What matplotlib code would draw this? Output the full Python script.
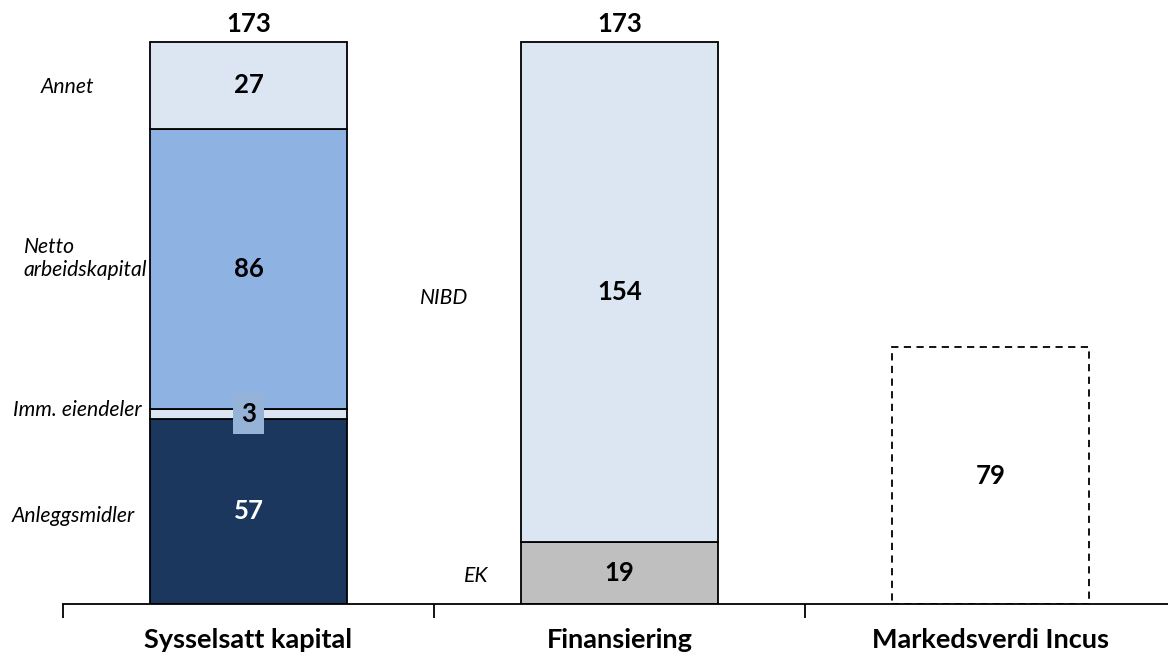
import matplotlib
matplotlib.use("Agg")
import matplotlib.pyplot as plt
from matplotlib.ticker import FixedLocator

plt.rcParams["font.family"] = ["Lato", "DejaVu Sans"]

categories = ["Sysselsatt kapital", "Finansiering", "Markedsverdi Incus"]

asset_names = ["Anleggsmidler", "Imm. eiendeler", "Netto\narbeidskapital", "Annet"]
asset_values = [57, 3, 86, 27]
asset_colors = ["#1B375E", "#DCE6F2", "#8EB3E2", "#DCE6F2"]
asset_text_colors = ["white", "black", "black", "black"]

funding_names = ["EK", "NIBD"]
funding_values = [19, 154]
funding_colors = ["#BFBFBF", "#DCE6F2"]

market_value = 79

fig = plt.figure(figsize=(11.68, 6.55), dpi=100)
ax = fig.add_axes([63 / 1168, 51 / 655, 1113 / 1168, 604 / 655])

width = 0.53
ax.set_xlim(-0.5, 2.5)
ax.set_ylim(0, 185.8)

num_kw = dict(ha="center", va="center", fontsize=18.5, fontweight="bold")
side_kw = dict(ha="left", va="center", fontsize=15.2, style="italic")

# Employed capital stack
bottom = 0
for name, val, col in zip(asset_names, asset_values, asset_colors):
    ax.bar(0, val, width, bottom=bottom, color=col, edgecolor="black", linewidth=1.3, zorder=2)
    bottom += val
total_assets = bottom

# Value labels for the asset stack
cum = 0
for name, val, tc in zip(asset_names, asset_values, asset_text_colors):
    mid = cum + val / 2
    if val < 10:
        ax.text(0, mid, str(val), color="black", zorder=5,
                bbox=dict(boxstyle="square,pad=0.33", facecolor="#95B3D7", edgecolor="none"),
                **num_kw)
    else:
        ax.text(0, mid, str(val), color=tc, zorder=5, **num_kw)
    cum += val
ax.text(0, total_assets + 5.5, str(total_assets), **num_kw)

# Side captions for the asset stack
asset_label_x = [-0.637, -0.634, -0.606, -0.56]
asset_label_dy = [-1.4, 1.2, 3.2, -0.5]
cum = 0
for name, val, lx, dy in zip(asset_names, asset_values, asset_label_x, asset_label_dy):
    ax.text(lx, cum + val / 2 + dy, name, linespacing=1.2, **side_kw)
    cum += val

# Financing stack
bottom = 0
for name, val, col in zip(funding_names, funding_values, funding_colors):
    ax.bar(1, val, width, bottom=bottom, color=col, edgecolor="black", linewidth=1.3, zorder=2)
    ax.text(1, bottom + val / 2, str(val), zorder=5, **num_kw)
    bottom += val
total_funding = bottom
ax.text(1, total_funding + 5.5, str(total_funding), **num_kw)

funding_label_x = [0.581, 0.462]
funding_label_dy = [-0.9, -1.8]
for name, val, lx, b, dy in zip(funding_names, funding_values, funding_label_x,
                                [0, funding_values[0]], funding_label_dy):
    ax.text(lx, b + val / 2 + dy, name, **side_kw)

# Market value (dashed outline)
ax.bar(2, market_value, width, color="none", edgecolor="black", linewidth=1.3,
       linestyle=(0, (4, 3)), zorder=2)
ax.text(2, market_value / 2, str(market_value), **num_kw)

# Axes styling
for side in ["top", "right", "left"]:
    ax.spines[side].set_visible(False)
ax.spines["bottom"].set_linewidth(1.3)
ax.spines["bottom"].set_zorder(3)
ax.set_yticks([])
ax.set_xticks(range(len(categories)))
ax.set_xticklabels(categories, fontsize=19.5, fontweight="bold")
ax.tick_params(axis="x", which="major", length=0, pad=17)
ax.xaxis.set_minor_locator(FixedLocator([-0.5, 0.5, 1.5, 2.5]))
ax.tick_params(axis="x", which="minor", length=10, width=1.3, direction="out")

fig.savefig("out.png", dpi=100)
